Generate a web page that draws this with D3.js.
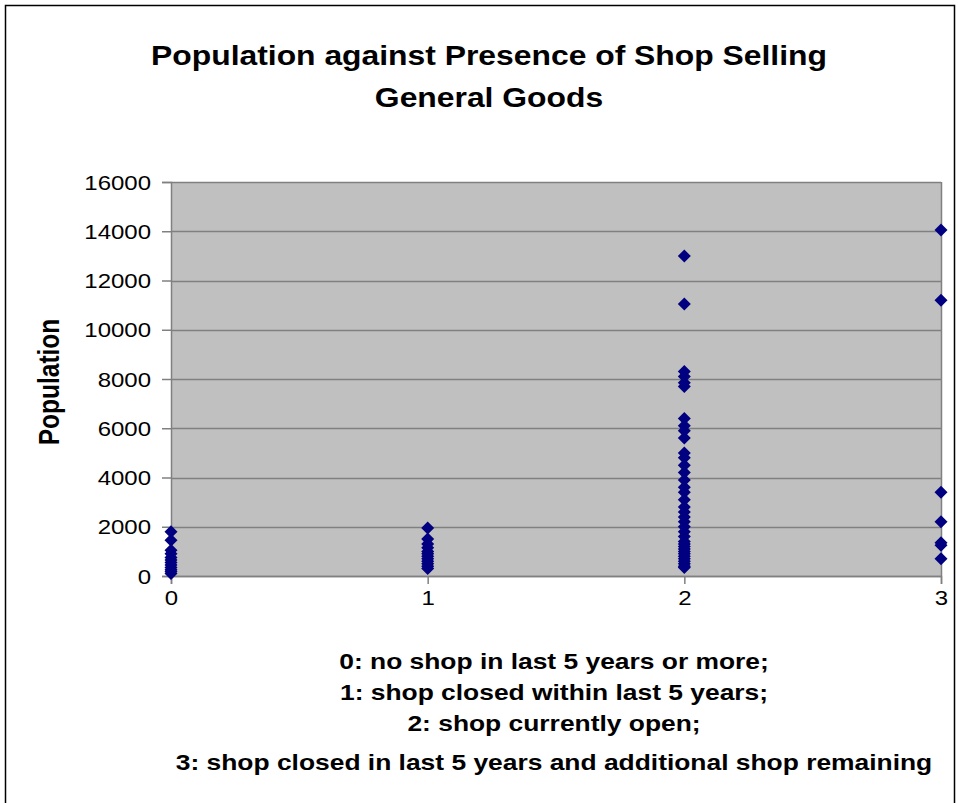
<!DOCTYPE html>
<html>
<head>
<meta charset="utf-8">
<script src="https://cdn.jsdelivr.net/npm/d3@7"></script>
<style>
  html, body { margin: 0; padding: 0; background: #ffffff; }
  svg { display: block; }
  text { font-family: "Liberation Sans", Arial, sans-serif; fill: #000; }
</style>
</head>
<body>
<div id="chart"></div>
<script>
// ---- Data ----
const title = ["Population against Presence of Shop Selling", "General Goods"];
const yLabel = "Population";
const legendLines = [
  "0: no shop in last 5 years or more;",
  "1: shop closed within last 5 years;",
  "2: shop currently open;",
  "3: shop closed in last 5 years and additional shop remaining"
];
const xTicks = [0, 1, 2, 3];
const yTicks = [0, 2000, 4000, 6000, 8000, 10000, 12000, 14000, 16000];

const popCat0 = [1800, 1450, 1050, 900, 750, 650, 550, 450, 350, 250, 180, 100];
const popCat1 = [1950, 1500, 1300, 1150, 1000, 900, 800, 700, 600, 500, 400, 300];
const popCat2 = [13000, 11050, 8300, 8100, 7850, 7700, 6400, 6100, 5900, 5600,
                 5000, 4800, 4500, 4200, 3900, 3600, 3400, 3100, 2800, 2600, 2400,
                 2200, 2000, 1800, 1600, 1400, 1300, 1200, 1100, 1000, 900, 800,
                 700, 600, 500, 400, 350];
const popCat3 = [14050, 11200, 3400, 2200, 1350, 1250, 700];

const points = [];
[popCat0, popCat1, popCat2, popCat3].forEach((arr, i) => arr.forEach(v => points.push({x: i, y: v})));

// ---- Layout ----
const W = 958, H = 803;
const plot = {left: 171, right: 941, top: 182, bottom: 576};
const SX = 1.2; // horizontal stretch of the original rendering

const svg = d3.select("#chart").append("svg").attr("width", W).attr("height", H);

// outer frame
svg.append("rect").attr("x", 5.5).attr("y", 5.5).attr("width", 949).attr("height", 820)
  .attr("fill", "#fff").attr("stroke", "#000").attr("stroke-width", 1.5);

const x = d3.scaleLinear().domain([0, 3]).range([plot.left, plot.right]);
const y = d3.scaleLinear().domain([0, 16000]).range([plot.bottom, plot.top]);

// plot background
svg.append("rect").attr("x", plot.left).attr("y", plot.top)
  .attr("width", plot.right - plot.left).attr("height", plot.bottom - plot.top)
  .attr("fill", "#c0c0c0");

// gridlines
svg.append("g").selectAll("line").data(yTicks).join("line")
  .attr("x1", plot.left).attr("x2", plot.right)
  .attr("y1", d => Math.round(y(d)) + 0.5).attr("y2", d => Math.round(y(d)) + 0.5)
  .attr("stroke", "#808080").attr("stroke-width", 1.5);

// right border of plot
svg.append("line").attr("x1", plot.right + 0.5).attr("x2", plot.right + 0.5)
  .attr("y1", plot.top).attr("y2", plot.bottom).attr("stroke", "#808080").attr("stroke-width", 1.5);

// y axis
const yAxis = d3.axisLeft(y).tickValues(yTicks).tickSize(9).tickFormat(d3.format("d"));
const gy = svg.append("g").attr("transform", `translate(${plot.left},0)`).call(yAxis);
gy.select(".domain").attr("stroke", "#808080").attr("stroke-width", 1.5);
gy.selectAll(".tick line").attr("stroke", "#808080").attr("stroke-width", 1.5);
gy.selectAll(".tick text")
  .attr("font-size", 20).attr("font-family", "Liberation Sans, Arial, sans-serif").attr("fill", "#000")
  .attr("x", 0).attr("dy", "0.35em")
  .attr("transform", `translate(-20,0) scale(${SX},1)`);

// x axis
const xAxis = d3.axisBottom(x).tickValues(xTicks).tickSize(8).tickFormat(d3.format("d"));
const gx = svg.append("g").attr("transform", `translate(0,${plot.bottom})`).call(xAxis);
gx.select(".domain").attr("stroke", "#808080").attr("stroke-width", 1.5);
gx.selectAll(".tick line").attr("stroke", "#808080").attr("stroke-width", 1.5);
gx.selectAll(".tick text")
  .attr("font-size", 20).attr("font-family", "Liberation Sans, Arial, sans-serif").attr("fill", "#000")
  .attr("y", 0).attr("dy", 0)
  .attr("transform", `translate(0,29) scale(${SX},1)`);

// markers (diamonds)
const r = 6.5;
svg.append("g").selectAll("path").data(points).join("path")
  .attr("d", d => {
    const cx = x(d.x), cy = y(d.y);
    return `M${cx},${cy - r}L${cx + r},${cy}L${cx},${cy + r}L${cx - r},${cy}Z`;
  })
  .attr("fill", "#000080");

// title
svg.append("g").selectAll("text").data(title).join("text")
  .attr("transform", (d, i) => `translate(489,${65 + i * 42}) scale(1.18,1)`)
  .attr("text-anchor", "middle").attr("font-size", 27).attr("font-weight", "bold")
  .text(d => d);

// y label
svg.append("text")
  .attr("transform", `translate(59,382) scale(${SX},1) rotate(-90)`)
  .attr("text-anchor", "middle").attr("font-size", 24.5).attr("font-weight", "bold")
  .text(yLabel);

// x legend lines
const legendY = [669, 700, 731, 770];
svg.append("g").selectAll("text").data(legendLines).join("text")
  .attr("transform", (d, i) => `translate(554,${legendY[i]}) scale(${SX},1)`)
  .attr("text-anchor", "middle").attr("font-size", 22).attr("font-weight", "bold")
  .text(d => d);
</script>
</body>
</html>
